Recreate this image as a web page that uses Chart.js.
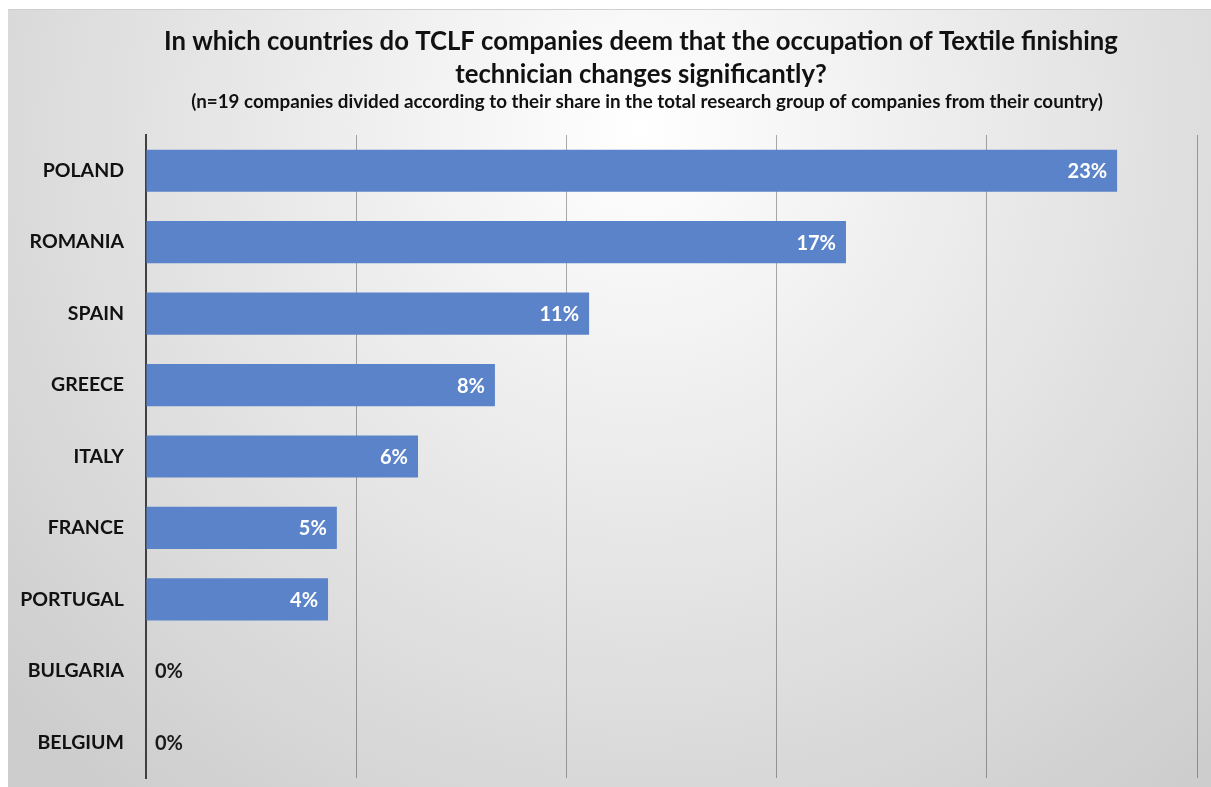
<!DOCTYPE html>
<html>
<head>
<meta charset="utf-8">
<script src="https://cdn.jsdelivr.net/npm/chart.js@4.4.1/dist/chart.umd.min.js"></script>
<style>
html,body{margin:0;padding:0;background:#fff;}
#wrap{width:1211px;height:787px;position:relative;}
</style>
</head>
<body>
<div id="wrap"><canvas id="c" width="1211" height="787"></canvas></div>
<script>
const categories = ["POLAND","ROMANIA","SPAIN","GREECE","ITALY","FRANCE","PORTUGAL","BULGARIA","BELGIUM"];
const values = [23.1, 16.65, 10.54, 8.3, 6.47, 4.54, 4.33, 0, 0];
const valueLabels = ["23%","17%","11%","8%","6%","5%","4%","0%","0%"];
const titleLines = ["In which countries do TCLF companies deem that the occupation of Textile finishing","technician changes significantly?"];
const subtitleText = "(n=19 companies divided according to their share in the total research group of companies from their country)";

const FONT = "Lato, 'Open Sans', sans-serif";

const bgPlugin = {
  id: 'bg',
  beforeDraw(chart) {
    const ctx = chart.ctx;
    ctx.save();
    ctx.fillStyle = '#ffffff';
    ctx.fillRect(0, 0, chart.width, chart.height);
    const g = ctx.createRadialGradient(640, 130, 0, 640, 130, 850);
    g.addColorStop(0, '#ffffff');
    g.addColorStop(0.4, '#ebebeb');
    g.addColorStop(1, '#cdcdcd');
    ctx.fillStyle = g;
    ctx.fillRect(8, 9, chart.width - 8, chart.height - 9);
    ctx.strokeStyle = '#d0d0d0';
    ctx.lineWidth = 1;
    ctx.beginPath();
    ctx.moveTo(8, 9.5);
    ctx.lineTo(chart.width, 9.5);
    ctx.stroke();
    ctx.restore();
  }
};

const headingPlugin = {
  id: 'heading',
  afterDraw(chart) {
    const ctx = chart.ctx;
    ctx.save();
    ctx.fillStyle = '#111111';
    ctx.textAlign = 'center';
    ctx.textBaseline = 'alphabetic';
    ctx.font = "bold 25.7px " + FONT;
    ctx.fillText(titleLines[0], 641, 50);
    ctx.fillText(titleLines[1], 641, 83);
    ctx.font = "bold 18.8px " + FONT;
    ctx.fillText(subtitleText, 647, 108);
    ctx.restore();
  }
};

const labelPlugin = {
  id: 'vlabels',
  afterDatasetsDraw(chart) {
    const ctx = chart.ctx;
    const meta = chart.getDatasetMeta(0);
    ctx.save();
    ctx.font = "bold 20px " + FONT;
    ctx.textBaseline = 'middle';
    meta.data.forEach((bar, i) => {
      const v = values[i];
      if (v > 0) {
        ctx.fillStyle = '#ffffff';
        ctx.textAlign = 'right';
        ctx.fillText(valueLabels[i], bar.x - 10, bar.y + 1);
      } else {
        ctx.fillStyle = '#1a1a1a';
        ctx.textAlign = 'left';
        ctx.fillText(valueLabels[i], bar.base + 9, bar.y + 1);
      }
    });
    ctx.restore();
  }
};

new Chart(document.getElementById('c'), {
  type: 'bar',
  data: {
    labels: categories,
    datasets: [{
      data: values,
      backgroundColor: '#5b83c9',
      borderWidth: 0,
      categoryPercentage: 1.0,
      barPercentage: 0.59
    }]
  },
  options: {
    indexAxis: 'y',
    responsive: false,
    animation: false,
    layout: { padding: { top: 135, right: 14, bottom: 9, left: 0 } },
    plugins: {
      legend: { display: false },
      tooltip: { enabled: false },
      title: { display: false },
      subtitle: { display: false }
    },
    scales: {
      x: {
        min: 0, max: 25,
        afterFit(scale) { scale.height = 0; },
        ticks: { display: false, stepSize: 5 },
        grid: {
          drawTicks: false,
          color: (c) => c.index === 0 ? 'rgba(0,0,0,0)' : 'rgba(0,0,0,0.32)',
          lineWidth: 1
        },
        border: { display: false }
      },
      y: {
        afterFit(scale) {
          scale.width = 146;
          scale.paddingTop = 0;
          scale.paddingBottom = 0;
        },
        ticks: {
          color: '#111111',
          padding: 22,
          font: { family: FONT, size: 19.5, weight: 'bold' }
        },
        grid: { display: false, drawTicks: false },
        border: { display: true, color: '#404040', width: 2 }
      }
    }
  },
  plugins: [bgPlugin, headingPlugin, labelPlugin]
});
</script>
</body>
</html>
